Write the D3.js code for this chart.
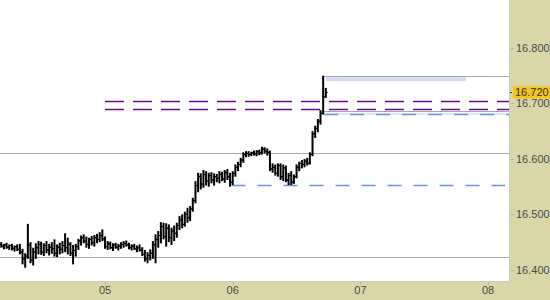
<!DOCTYPE html>
<html><head><meta charset="utf-8">
<script src="https://cdn.jsdelivr.net/npm/d3@7"></script>
<style>html,body{margin:0;padding:0;background:#fff;}svg{display:block;}</style>
</head><body><div id="chart"></div>
<script>
// ---- data (30-minute OHLC bars starting 04 04:00) ----
const barStart = "2000-01-04T04:00";
const barStepMinutes = 30;
const opens = [.444,.446,.443,.445,.441,.444,.439,.442,.437,.432,.420,.425,.445,.418,.432,.440,.446,.432,.444,.436,.441,.438,.430,.441,.437,.444,.440,.446,.430,.435,.442,.452,.458,.452,.446,.455,.449,.458,.455,.462,.456,.442,.447,.440,.445,.441,.443,.446,.448,.445,.440,.443,.438,.440,.436,.428,.420,.426,.430,.445,.455,.462,.478,.460,.475,.458,.470,.466,.480,.490,.482,.500,.494,.510,.525,.552,.568,.555,.572,.560,.570,.562,.568,.565,.572,.564,.575,.568,.558,.574,.585,.590,.598,.608,.610,.608,.611,.609,.613,.611,.618,.614,.612,.582,.585,.574,.588,.568,.584,.562,.570,.558,.568,.585,.592,.590,.596,.592,.608,.645,.655,.668,.682,.712];
const highs = [.448,.450,.447,.449,.446,.447,.444,.446,.447,.438,.430,.483,.450,.440,.448,.452,.451,.448,.452,.447,.450,.455,.446,.449,.452,.466,.458,.450,.445,.447,.456,.462,.464,.460,.458,.461,.463,.465,.468,.473,.460,.452,.451,.448,.449,.447,.450,.452,.453,.449,.446,.447,.444,.446,.441,.436,.432,.437,.452,.464,.470,.486,.485,.484,.482,.476,.480,.485,.497,.500,.505,.512,.515,.530,.560,.575,.574,.580,.578,.575,.576,.574,.573,.578,.577,.580,.582,.575,.578,.590,.595,.602,.612,.614,.614,.613,.615,.616,.617,.622,.621,.619,.615,.592,.590,.592,.592,.590,.588,.575,.578,.572,.590,.595,.598,.600,.602,.612,.650,.660,.672,.688,.750,.728];
const lows = [.438,.440,.437,.438,.436,.435,.433,.434,.428,.410,.404,.420,.412,.408,.420,.428,.427,.425,.430,.426,.429,.424,.423,.428,.430,.432,.428,.425,.410,.424,.436,.444,.448,.440,.438,.444,.442,.448,.450,.452,.438,.436,.437,.434,.438,.435,.438,.440,.442,.437,.435,.436,.432,.433,.425,.415,.412,.417,.420,.412,.440,.448,.455,.442,.450,.445,.452,.458,.472,.475,.478,.485,.488,.505,.520,.540,.545,.548,.552,.550,.556,.552,.558,.556,.560,.557,.562,.550,.553,.568,.578,.585,.593,.603,.604,.605,.606,.605,.607,.608,.610,.606,.578,.575,.570,.568,.562,.560,.558,.553,.553,.555,.565,.578,.583,.585,.588,.590,.605,.638,.648,.662,.680,.710];
const closes = [.446,.443,.445,.441,.444,.439,.442,.437,.432,.420,.425,.445,.418,.432,.440,.446,.432,.444,.436,.441,.438,.430,.441,.437,.444,.440,.446,.430,.435,.442,.452,.458,.452,.446,.455,.449,.458,.455,.462,.456,.442,.447,.440,.445,.441,.443,.446,.448,.445,.440,.443,.438,.440,.436,.428,.420,.426,.430,.445,.455,.462,.478,.460,.475,.458,.470,.466,.480,.490,.482,.500,.494,.510,.525,.552,.568,.555,.572,.560,.570,.562,.568,.565,.572,.564,.575,.568,.558,.574,.585,.590,.598,.608,.610,.608,.611,.609,.613,.611,.618,.614,.612,.582,.585,.574,.588,.568,.584,.562,.570,.558,.568,.585,.592,.590,.596,.592,.608,.645,.655,.668,.682,.712,.720];
const priceBase = 16;
const yTickValues = [16.4, 16.5, 16.6, 16.7, 16.8];
const xTickLabels = ["05", "06", "07", "08"];
const xTickDates = ["2000-01-05T00:00", "2000-01-06T00:00", "2000-01-07T00:00", "2000-01-08T00:00"];
// horizontal levels
const grayLevels = [16.611, 16.423];
const grayShortLevels = [16.749, 16.686];
const purpleLevels = [16.705, 16.690];
const blueLevelsUpper = [16.681];
const blueLevelsLower = [16.553];
const lastPrice = 16.720;
const zoneTop = [16.749, 16.742];
const zoneBottom = [16.685, 16.681];

// ---- layout ----
const W = 550, H = 300, plotR = 509, plotB = 281;
const svg = d3.select("#chart").append("svg").attr("width", W).attr("height", H);
const parse = d3.timeParse("%Y-%m-%dT%H:%M");
const x = d3.scaleTime()
  .domain([parse("2000-01-05T00:00"), parse("2000-01-06T00:00")])
  .range([105, 232.7]);
const y = d3.scaleLinear().domain([16.380, 16.8865]).range([plotB, 0]);

// backgrounds
svg.append("rect").attr("x", 0).attr("y", 0).attr("width", W).attr("height", H).attr("fill", "#d9d7a7");
svg.append("rect").attr("x", 0).attr("y", 0).attr("width", plotR).attr("height", plotB).attr("fill", "#ffffff");

svg.append("clipPath").attr("id", "pc").append("rect").attr("x", 0).attr("y", 0).attr("width", plotR).attr("height", plotB);
const plot = svg.append("g").attr("clip-path", "url(#pc)");

const hy = d => Math.round(y(d)) + 0.5;

// gray full-width lines
plot.selectAll(null).data(grayLevels).join("line")
  .attr("x1", 0).attr("x2", plotR).attr("y1", hy).attr("y2", hy)
  .attr("stroke", "#a8a8a8").attr("stroke-width", 1);

const barTimes = opens.map((_, i) => d3.timeMinute.offset(parse(barStart), i * barStepMinutes));
const lastX = x(barTimes[barTimes.length - 2]) + 1;

// light blue zones
plot.append("rect").attr("x", lastX + 2).attr("y", y(zoneTop[0]) + 1).attr("width", 140)
  .attr("height", y(zoneTop[1]) - y(zoneTop[0])).attr("fill", "#d3dbf4");
plot.append("rect").attr("x", lastX + 2).attr("y", y(zoneBottom[0]) + 1).attr("width", plotR - lastX)
  .attr("height", y(zoneBottom[1]) - y(zoneBottom[0])).attr("fill", "#e1e7f8");

// gray short lines
plot.selectAll(null).data(grayShortLevels).join("line")
  .attr("x1", lastX).attr("x2", plotR).attr("y1", hy).attr("y2", hy)
  .attr("stroke", "#a8a8a8").attr("stroke-width", 1);

// purple dashed
plot.selectAll(null).data(purpleLevels).join("line")
  .attr("x1", 105).attr("x2", plotR).attr("y1", hy).attr("y2", hy)
  .attr("stroke", "#6a0d8c").attr("stroke-width", 1.4).attr("stroke-dasharray", "19,9");
// blue dashed
plot.selectAll(null).data(blueLevelsUpper).join("line")
  .attr("x1", lastX).attr("x2", plotR).attr("y1", hy).attr("y2", hy)
  .attr("stroke", "#6a94e0").attr("stroke-width", 1.3).attr("stroke-dasharray", "14,12");
plot.selectAll(null).data(blueLevelsLower).join("line")
  .attr("x1", 231.5).attr("x2", 505).attr("y1", hy).attr("y2", hy)
  .attr("stroke", "#6a94e0").attr("stroke-width", 1.3).attr("stroke-dasharray", "14,12");

// OHLC bars
const bars = plot.append("g").attr("stroke", "#000").attr("stroke-linecap", "butt");
opens.forEach((o, i) => {
  const cx = x(barTimes[i]);
  bars.append("line").attr("x1", cx).attr("x2", cx).attr("stroke-width", 2)
    .attr("y1", y(priceBase + highs[i])).attr("y2", y(priceBase + lows[i]));
  bars.append("line").attr("x1", cx - 2).attr("x2", cx)
    .attr("y1", y(priceBase + o)).attr("y2", y(priceBase + o)).attr("stroke-width", 1);
  bars.append("line").attr("x1", cx).attr("x2", cx + 2)
    .attr("y1", y(priceBase + closes[i])).attr("y2", y(priceBase + closes[i])).attr("stroke-width", 1);
});

// plot border
svg.append("line").attr("x1", plotR + 0.5).attr("x2", plotR + 0.5).attr("y1", 0).attr("y2", plotB + 1).attr("stroke", "#c9c9c9");
svg.append("line").attr("x1", 0).attr("x2", plotR).attr("y1", plotB + 0.5).attr("y2", plotB + 0.5).attr("stroke", "#c9c9c9");

// y axis labels
const ya = svg.append("g").attr("font-family", "Liberation Sans, Arial, sans-serif").attr("font-size", 11).attr("fill", "#4a4a4a");
yTickValues.forEach(v => {
  ya.append("line").attr("x1", plotR + 2).attr("x2", plotR + 5).attr("y1", hy(v)).attr("y2", hy(v)).attr("stroke", "#b8b69a");
  ya.append("text").attr("x", 516).attr("y", y(v)).attr("dy", "0.35em").text(d3.format(".3f")(v));
});
// last price label
ya.append("rect").attr("x", 513).attr("y", y(lastPrice) - 6).attr("width", 37).attr("height", 12).attr("fill", "#f6c51c");
ya.append("line").attr("x1", plotR + 1).attr("x2", plotR + 3).attr("y1", hy(lastPrice)).attr("y2", hy(lastPrice)).attr("stroke", "#333");
ya.append("text").attr("x", 515).attr("y", y(lastPrice)).attr("dy", "0.35em").attr("fill", "#333").text(d3.format(".3f")(lastPrice));

// x axis labels
const xa = svg.append("g").attr("font-family", "Liberation Sans, Arial, sans-serif").attr("font-size", 11).attr("fill", "#4a4a4a");
xTickDates.forEach((d, i) => {
  const px = x(parse(d));
  xa.append("line").attr("x1", Math.round(px) + 0.5).attr("x2", Math.round(px) + 0.5).attr("y1", plotB + 1).attr("y2", plotB + 4).attr("stroke", "#b8b69a");
  xa.append("text").attr("x", px).attr("y", 294).attr("text-anchor", "middle").text(xTickLabels[i]);
});
</script></body></html>
